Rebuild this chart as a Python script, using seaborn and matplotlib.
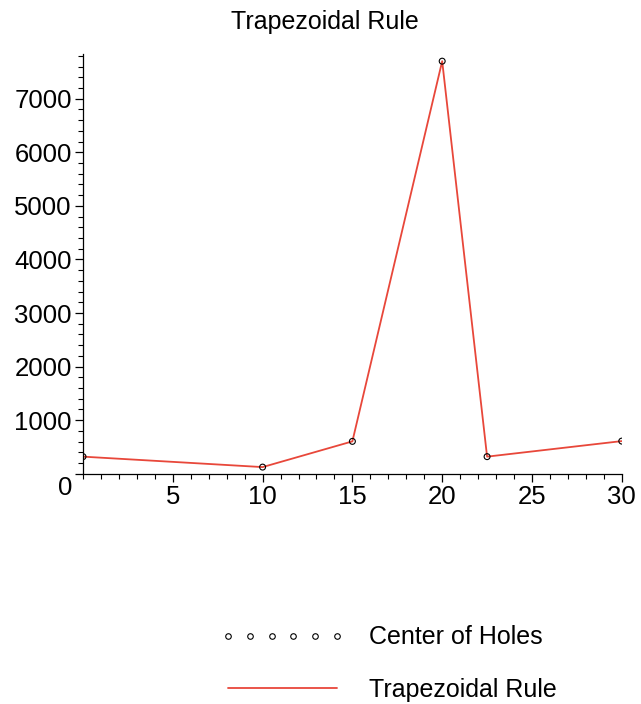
import matplotlib
matplotlib.use("Agg")
import matplotlib.pyplot as plt
import matplotlib.transforms as mtransforms
from matplotlib.lines import Line2D
from matplotlib.ticker import MultipleLocator
import pandas as pd
import seaborn as sns

# hole positions and trapezoidal-rule values
hole_x = [0, 10, 15, 20, 22.5, 30]
hole_y = [320, 125, 605, 7700, 320, 610]
x_ticks = [5, 10, 15, 20, 25, 30]
y_ticks = [0, 1000, 2000, 3000, 4000, 5000, 6000, 7000]

LINE_RED = "#e8473a"

sns.set_style("ticks", {"axes.edgecolor": "black", "text.color": "black",
                        "xtick.color": "black", "ytick.color": "black"})
plt.rcParams["font.family"] = ["Liberation Sans", "DejaVu Sans"]

df = pd.DataFrame({"x": hole_x, "y": hole_y})

fig = plt.figure(figsize=(6.41, 7.04), dpi=100)
ax = fig.add_axes([0.1295, 0.327, 0.8405, 0.596])

sns.lineplot(data=df, x="x", y="y", ax=ax, color=LINE_RED, linewidth=1.3,
             sort=False)
sns.scatterplot(data=df, x="x", y="y", ax=ax, s=18, facecolor="none",
                edgecolor="black", linewidth=0.8, zorder=3)

ax.set_xlim(0, 30)
ax.set_ylim(0, 7830)
ax.set_xticks(x_ticks)
ax.set_yticks(y_ticks)
ax.xaxis.set_minor_locator(MultipleLocator(1))
ax.yaxis.set_minor_locator(MultipleLocator(200))
ax.tick_params(which="major", length=6, width=0.9, labelsize=18.5, pad=2)
ax.tick_params(which="minor", length=3.5, width=0.8)
ax.set_xlabel("")
ax.set_ylabel("")
sns.despine(ax=ax)
for sp in ["left", "bottom"]:
    ax.spines[sp].set_linewidth(0.9)

# Maple puts the origin label a bit below the axis
zero_lbl = ax.get_yticklabels()[0]
zero_lbl.set_transform(zero_lbl.get_transform() +
                       mtransforms.ScaledTranslation(0, -12 / 100, fig.dpi_scale_trans))

ax.set_title("Trapezoidal Rule", fontsize=18, pad=18, x=0.449)

handles = [
    Line2D([], [], linestyle="none", marker="o", markersize=4,
           markerfacecolor="none", markeredgecolor="black", markeredgewidth=0.8),
    Line2D([], [], color=LINE_RED, linewidth=1.3),
]
fig.legend(handles, ["Center of Holes", "Trapezoidal Rule"],
           loc="center left", bbox_to_anchor=(0.344, 0.057), frameon=False,
           borderpad=0, borderaxespad=0,
           fontsize=18, numpoints=6, handlelength=4.95, handletextpad=1.0,
           labelspacing=1.15)

fig.savefig("out.png", dpi=100)
